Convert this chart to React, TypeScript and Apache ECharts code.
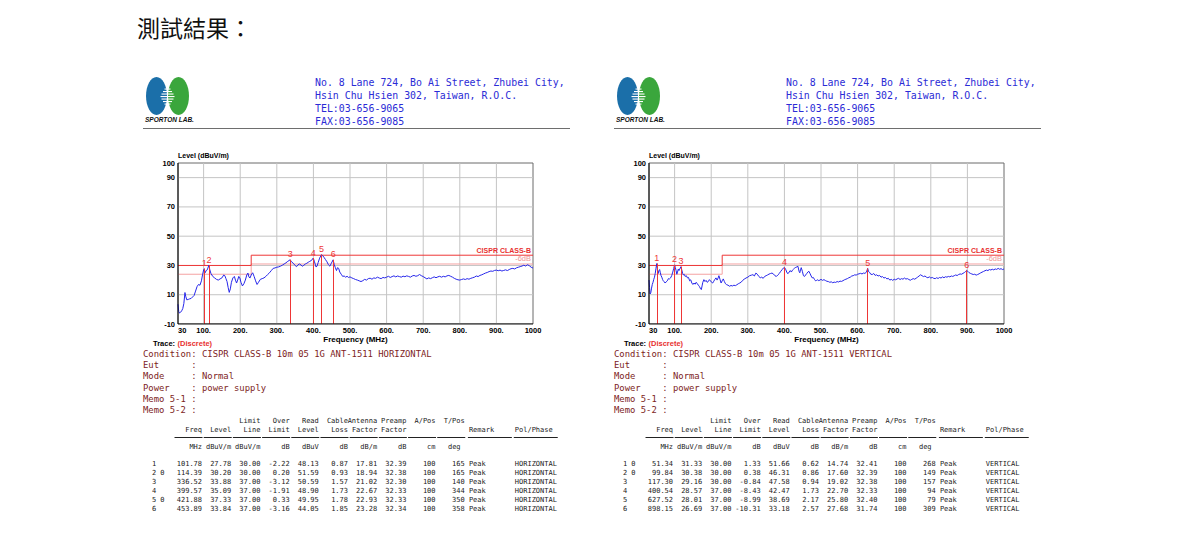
import React, { useEffect, useRef } from "react";
import * as echarts from "echarts";

const titleText = "測試結果：";
const addressLines = [
  "No. 8 Lane 724, Bo Ai Street, Zhubei City,",
  "Hsin Chu Hsien 302, Taiwan, R.O.C.",
  "TEL:03-656-9065",
  "FAX:03-656-9085",
];
const logoText = "SPORTON LAB.";
const conditionLabels = ["Condition", "Eut", "Mode", "Power", "Memo 5-1", "Memo 5-2"];
const horizConditionValues = ["CISPR CLASS-B 10m 05 1G ANT-1511 HORIZONTAL", "", "Normal", "power supply", "", ""];
const vertConditionValues = ["CISPR CLASS-B 10m 05 1G ANT-1511 VERTICAL", "", "Normal", "power supply", "", ""];

const xTicks = [30, 100, 200, 300, 400, 500, 600, 700, 800, 900, 1000];
const xGridValues = [100, 200, 300, 400, 500, 600, 700, 800, 900];
const yTicks = [-10, 10, 30, 50, 70, 90, 100];
const yGridValues = [10, 30, 50, 70, 90];
const xRange = [30, 1000];
const yRange = [-10, 100];

const limitClassB = [[30, 30], [230, 30], [230, 37], [1000, 37]];
const limitClassB6dB = [[30, 24], [230, 24], [230, 31], [1000, 31]];

const horizTrace = [
  [30, 3.5], [32, -1.5], [34, -2.5], [37, -2.0], [40, -1.0], [43, 0.5], [46, 4.0], [49, 11.5], [51, 9.0], [54, 6.5],
  [58, 6.8], [62, 7.2], [66, 7.5], [70, 8.5], [74, 9.5], [78, 12.5], [82, 15.5], [86, 17.0], [90, 16.5], [94, 19.5],
  [97, 23.5], [100, 27.0], [101.78, 27.78], [104, 25.0], [107, 26.5], [110, 27.0], [114.39, 30.2], [117, 27.0], [120, 24.5], [125, 22.5],
  [130, 21.5], [135, 20.5], [140, 20.0], [145, 20.8], [150, 21.5], [155, 23.5], [158, 23.0], [161, 21.0], [164, 19.0], [167, 15.0],
  [170, 11.6], [173, 14.0], [176, 18.5], [180, 21.5], [184, 22.5], [187, 20.0], [190, 18.0], [193, 20.0], [196, 22.5], [199, 21.5],
  [202, 18.5], [206, 16.0], [210, 17.5], [214, 20.0], [218, 23.5], [221, 24.8], [224, 22.0], [227, 21.5], [230, 23.5], [234, 25.0],
  [238, 22.5], [242, 19.5], [246, 17.0], [250, 18.5], [255, 20.5], [260, 21.0], [265, 21.5], [270, 22.5], [275, 23.8], [280, 25.0],
  [285, 26.5], [290, 28.0], [295, 28.3], [300, 28.8], [305, 29.0], [310, 29.5], [315, 30.2], [320, 31.0], [325, 31.8], [330, 32.8],
  [336.52, 33.88], [340, 32.5], [345, 31.5], [350, 30.0], [354, 29.2], [358, 30.5], [362, 31.0], [366, 30.3], [370, 29.5], [374, 30.2],
  [378, 31.0], [382, 31.5], [386, 32.2], [390, 32.8], [395, 33.5], [399.57, 35.09], [403, 32.5], [407, 29.0], [410, 29.5], [413, 32.0],
  [417, 35.0], [421.88, 37.33], [425, 36.8], [429, 35.5], [433, 34.0], [437, 32.5], [441, 30.5], [445, 29.5], [449, 31.5], [453.89, 33.84],
  [457, 30.5], [460, 28.5], [463, 26.5], [466, 28.5], [469, 28.0], [472, 25.5], [476, 24.0], [480, 22.5], [484, 22.8], [488, 22.0],
  [492, 22.6], [496, 21.8], [500, 22.2], [505, 21.5], [510, 21.0], [515, 20.4], [520, 20.0], [525, 19.5], [530, 19.0], [535, 19.6],
  [540, 20.5], [545, 20.0], [550, 21.0], [555, 21.3], [560, 20.6], [565, 21.5], [570, 21.2], [575, 22.0], [580, 21.4], [585, 21.0],
  [590, 21.8], [595, 21.5], [600, 22.0], [605, 22.6], [610, 21.8], [615, 22.4], [620, 22.9], [625, 22.2], [630, 22.8], [635, 22.4],
  [640, 22.0], [645, 22.7], [650, 22.3], [655, 22.9], [660, 22.5], [665, 22.0], [670, 22.8], [675, 23.2], [680, 22.6], [685, 23.0],
  [690, 23.8], [695, 23.0], [700, 22.4], [705, 21.6], [710, 20.8], [715, 21.5], [720, 21.0], [725, 21.6], [730, 22.2], [735, 21.6],
  [740, 22.2], [745, 22.6], [750, 22.0], [755, 22.6], [760, 22.2], [765, 22.9], [770, 23.2], [775, 22.6], [780, 22.0], [785, 21.2],
  [790, 20.6], [795, 20.2], [800, 20.0], [805, 20.4], [810, 20.8], [815, 20.4], [820, 21.0], [825, 20.6], [830, 21.2], [835, 21.6],
  [840, 22.0], [845, 22.8], [850, 22.4], [855, 23.2], [860, 23.6], [865, 24.2], [870, 24.8], [875, 25.2], [880, 25.8], [885, 26.2],
  [890, 26.0], [895, 26.6], [900, 26.8], [905, 26.4], [910, 26.8], [915, 26.2], [920, 26.6], [925, 27.0], [930, 26.5], [935, 27.2],
  [940, 27.8], [945, 28.0], [950, 27.6], [955, 28.4], [960, 28.8], [965, 29.2], [970, 29.6], [975, 30.2], [980, 29.6], [985, 30.5],
  [990, 29.8], [995, 28.8], [1000, 28.2],
];

const vertTrace = [
  [30, 20.0], [31.5, 15.0], [33, 10.5], [35, 11.5], [37, 14.5], [39, 17.0], [41, 18.5], [43, 20.5], [45, 22.0], [47, 24.5],
  [49, 28.0], [51.34, 31.33], [53, 27.0], [55, 24.5], [57, 26.5], [59, 27.2], [61, 25.0], [63, 23.0], [65, 22.0], [67, 20.5],
  [69, 19.5], [71, 19.0], [74, 18.0], [77, 18.8], [80, 19.5], [83, 21.0], [86, 20.8], [89, 21.5], [92, 23.0], [95, 25.5],
  [97.5, 28.0], [99.84, 30.38], [102, 28.5], [104, 26.5], [106, 24.0], [108, 25.5], [110, 27.5], [112, 26.5], [114, 27.5], [117.3, 29.16],
  [119.5, 27.0], [122, 24.5], [124, 23.5], [126, 24.0], [129, 22.5], [132, 23.0], [135, 21.5], [138, 21.8], [141, 19.5], [144, 20.2],
  [147, 18.0], [150, 17.0], [153, 18.0], [156, 17.2], [159, 18.5], [162, 17.5], [165, 16.5], [168, 15.5], [171, 14.0], [173, 13.5],
  [175, 16.0], [177, 18.5], [180, 20.3], [183, 19.0], [186, 19.8], [189, 18.5], [192, 19.0], [195, 20.3], [198, 19.5], [201, 18.5],
  [204, 18.0], [207, 19.2], [210, 20.5], [213, 21.5], [216, 20.0], [219, 21.5], [221, 23.0], [224, 20.5], [227, 18.0], [230, 19.5],
  [233, 20.8], [236, 19.0], [239, 17.5], [242, 16.9], [246, 16.5], [250, 15.8], [254, 16.3], [258, 16.0], [262, 16.5], [266, 16.2],
  [270, 16.8], [274, 17.5], [278, 18.0], [282, 18.6], [286, 19.8], [290, 20.6], [295, 21.4], [300, 22.0], [305, 23.0], [310, 23.4],
  [314, 23.7], [318, 22.8], [322, 24.8], [326, 24.0], [330, 22.5], [334, 21.6], [338, 22.0], [342, 21.2], [346, 22.5], [350, 23.0],
  [354, 23.5], [358, 24.1], [362, 24.5], [366, 24.8], [370, 24.2], [374, 23.0], [378, 22.5], [382, 23.5], [386, 24.5], [390, 26.0],
  [393.6, 27.1], [397, 28.2], [400.54, 28.57], [404, 27.0], [407, 25.0], [410, 24.4], [413, 25.5], [416, 26.5], [419, 25.5], [422, 26.8],
  [425, 27.5], [428, 28.2], [431, 28.7], [434, 29.0], [437, 29.4], [440, 26.0], [442, 25.0], [444, 27.0], [446, 28.5], [449, 26.0],
  [452, 23.0], [455, 22.5], [458, 23.5], [461, 24.5], [464, 25.5], [467, 26.0], [470, 24.5], [473, 22.8], [476, 21.5], [479, 21.8],
  [482, 20.5], [485, 19.5], [488, 19.8], [491, 20.2], [494, 19.6], [497, 20.0], [500, 20.5], [504, 19.8], [508, 20.3], [512, 19.7],
  [516, 19.2], [520, 19.0], [524, 18.5], [528, 18.8], [532, 18.2], [536, 18.6], [540, 18.4], [544, 19.0], [548, 18.7], [552, 19.3],
  [556, 19.1], [560, 19.6], [564, 20.2], [568, 20.6], [572, 21.0], [576, 21.6], [580, 22.0], [584, 22.8], [588, 23.0], [592, 23.6],
  [596, 23.4], [600, 24.0], [604, 24.3], [608, 24.6], [612, 24.2], [616, 24.8], [620, 24.6], [624, 25.4], [627.52, 28.01], [630, 25.8],
  [633, 25.2], [636, 24.0], [640, 23.8], [644, 24.5], [648, 23.2], [652, 23.6], [656, 22.8], [660, 23.2], [664, 22.0], [668, 22.4],
  [672, 21.4], [676, 21.8], [680, 20.8], [684, 21.2], [688, 20.0], [692, 20.5], [696, 19.8], [700, 20.6], [704, 20.2], [708, 20.8],
  [712, 21.2], [716, 20.4], [720, 21.0], [724, 20.6], [728, 21.4], [732, 20.7], [736, 21.0], [740, 20.4], [744, 19.9], [748, 20.5],
  [752, 21.0], [756, 20.6], [760, 21.3], [764, 22.0], [768, 22.8], [772, 23.6], [776, 23.0], [780, 22.4], [784, 22.8], [788, 22.0],
  [792, 21.6], [796, 22.2], [800, 21.4], [804, 21.8], [808, 21.2], [812, 21.0], [816, 21.6], [820, 21.1], [824, 21.8], [828, 21.4],
  [832, 22.2], [836, 21.6], [840, 22.3], [844, 22.0], [848, 22.5], [852, 22.2], [856, 22.8], [860, 22.5], [864, 23.0], [868, 23.5],
  [872, 23.1], [876, 23.8], [880, 24.2], [884, 24.0], [888, 24.6], [892, 25.2], [895, 25.8], [898.15, 26.69], [901, 26.0], [904, 25.2],
  [908, 24.6], [912, 24.2], [916, 23.8], [920, 24.0], [924, 23.4], [928, 23.8], [932, 24.3], [936, 24.9], [940, 25.4], [944, 25.9],
  [948, 26.4], [952, 26.8], [956, 26.5], [960, 27.2], [964, 26.9], [968, 27.4], [972, 27.0], [976, 27.6], [980, 27.3], [984, 28.0],
  [988, 27.4], [992, 27.8], [996, 27.2], [1000, 27.6],
];

const tableHeaderTop = ["", "", "Limit", "Over", "Read", "Cable", "Antenna", "Preamp", "A/Pos", "T/Pos"];
const tableHeaderMid = ["Freq", "Level", "Line", "Limit", "Level", "Loss", "Factor", "Factor", "", ""];
const tableUnits = ["MHz", "dBuV/m", "dBuV/m", "dB", "dBuV", "dB", "dB/m", "dB", "cm", "deg"];
const tableTextHeaders = ["Remark", "Pol/Phase"];

const horizFlags = ["", "0", "", "", "0", ""];
const horizFreq = [101.78, 114.39, 336.52, 399.57, 421.88, 453.89];
const horizLevel = [27.78, 30.2, 33.88, 35.09, 37.33, 33.84];
const horizLimitLine = [30, 30, 37, 37, 37, 37];
const horizOverLimit = [-2.22, 0.2, -3.12, -1.91, 0.33, -3.16];
const horizReadLevel = [48.13, 51.59, 50.59, 48.9, 49.95, 44.05];
const horizCableLoss = [0.87, 0.93, 1.57, 1.73, 1.78, 1.85];
const horizAntFactor = [17.81, 18.94, 21.02, 22.67, 22.93, 23.28];
const horizPreamp = [32.39, 32.38, 32.3, 32.33, 32.33, 32.34];
const horizAPos = [100, 100, 100, 100, 100, 100];
const horizTPos = [165, 165, 140, 344, 350, 358];
const horizRemark = ["Peak", "Peak", "Peak", "Peak", "Peak", "Peak"];
const horizPol = ["HORIZONTAL", "HORIZONTAL", "HORIZONTAL", "HORIZONTAL", "HORIZONTAL", "HORIZONTAL"];

const vertFlags = ["0", "0", "", "", "", ""];
const vertFreq = [51.34, 99.84, 117.3, 400.54, 627.52, 898.15];
const vertLevel = [31.33, 30.38, 29.16, 28.57, 28.01, 26.69];
const vertLimitLine = [30, 30, 30, 37, 37, 37];
const vertOverLimit = [1.33, 0.38, -0.84, -8.43, -8.99, -10.31];
const vertReadLevel = [51.66, 46.31, 47.58, 42.47, 38.69, 33.18];
const vertCableLoss = [0.62, 0.86, 0.94, 1.73, 2.17, 2.57];
const vertAntFactor = [14.74, 17.6, 19.02, 22.7, 25.8, 27.68];
const vertPreamp = [32.41, 32.39, 32.38, 32.33, 32.4, 31.74];
const vertAPos = [100, 100, 100, 100, 100, 100];
const vertTPos = [268, 149, 157, 94, 79, 309];
const vertRemark = ["Peak", "Peak", "Peak", "Peak", "Peak", "Peak"];
const vertPol = ["VERTICAL", "VERTICAL", "VERTICAL", "VERTICAL", "VERTICAL", "VERTICAL"];

const SANS = "Liberation Sans";
const MONO = "DejaVu Sans Mono";
const RED = "#ee3636";
const PINK = "#f4a2a2";
const TRACE = "#2626ea";
const GRIDLINE = "#c4c4c4";

const panels = [
  {
    dx: 0,
    trace: horizTrace, cond: horizConditionValues, flags: horizFlags, freq: horizFreq, level: horizLevel,
    cols: [horizFreq, horizLevel, horizLimitLine, horizOverLimit, horizReadLevel, horizCableLoss, horizAntFactor, horizPreamp],
    apos: horizAPos, tpos: horizTPos, remark: horizRemark, pol: horizPol,
  },
  {
    dx: 471,
    trace: vertTrace, cond: vertConditionValues, flags: vertFlags, freq: vertFreq, level: vertLevel,
    cols: [vertFreq, vertLevel, vertLimitLine, vertOverLimit, vertReadLevel, vertCableLoss, vertAntFactor, vertPreamp],
    apos: vertAPos, tpos: vertTPos, remark: vertRemark, pol: vertPol,
  },
];

function txt(text: string, x: number, y: number, o: any = {}) {
  return {
    type: "text",
    silent: true,
    style: {
      text, x, y,
      fill: o.fill || "#000",
      fontSize: o.fontSize || 8,
      fontFamily: o.fontFamily || SANS,
      fontWeight: o.fontWeight || "normal",
      fontStyle: o.fontStyle || "normal",
      textAlign: o.align || "left",
      textVerticalAlign: "middle",
    },
  };
}

function buildGraphics() {
  const els: any[] = [];
  els.push(txt(titleText, 137, 27, { fontSize: 23, fontFamily: "Noto Sans CJK TC", fill: "#111" }));
  const cw = 4.17;
  const colEnds = [12, 19, 26, 33, 40, 47, 54, 61, 68, 75];
  panels.forEach((p) => {
    const dx = p.dx;
    els.push({ type: "ellipse", silent: true, shape: { cx: 156.5 + dx, cy: 96, rx: 10.5, ry: 19 }, style: { fill: "#1b6fa9" } });
    els.push({ type: "ellipse", silent: true, shape: { cx: 178.5 + dx, cy: 96, rx: 10.5, ry: 19 }, style: { fill: "#3aa63c" } });
    const stripes = [[88.5, 6], [91, 9], [93.5, 12], [96, 14], [98.5, 12], [101, 9], [103.5, 6]];
    stripes.forEach(([y, w]) => {
      els.push({ type: "rect", silent: true, shape: { x: 167.5 - w / 2 + dx, y, width: w, height: 1.1 }, style: { fill: "#ffffff" } });
    });
    els.push(txt(logoText, 145 + dx, 119.5, { fontSize: 6.5, fontWeight: "bold", fontStyle: "italic", fill: "#111" }));
    addressLines.forEach((l, i) => {
      els.push(txt(l, 315 + dx, 82 + 13 * i, { fontSize: 9.9, fontFamily: MONO, fill: "#2b2bd6" }));
    });
    els.push({ type: "line", silent: true, shape: { x1: 143 + dx, y1: 128.5, x2: 570 + dx, y2: 128.5 }, style: { stroke: "#6e6e6e", lineWidth: 1 } });
    els.push(txt("Trace:", 153 + dx, 343.5, { fontSize: 7.5, fontWeight: "bold" }));
    els.push(txt("(Discrete)", 177.5 + dx, 343.5, { fontSize: 7.5, fontWeight: "bold", fill: "#e83030" }));
    const ccw = 5.36;
    conditionLabels.forEach((lab, i) => {
      const y = 354 + 11.2 * i;
      const o = { fontSize: 8.9, fontFamily: MONO, fill: "#7d1d1d" };
      els.push(txt(lab, 143 + dx, y, o));
      els.push(txt(":", 143 + 9 * ccw + dx, y, o));
      if (p.cond[i]) els.push(txt(p.cond[i], 143 + 11 * ccw + dx, y, o));
    });
    const bx = 152 + dx;
    const to = { fontSize: 7, fontFamily: MONO, fill: "#1a1a1a" };
    const tr = { ...to, align: "right" };
    colEnds.forEach((ce, i) => {
      const x = bx + ce * cw;
      if (tableHeaderTop[i]) els.push(txt(tableHeaderTop[i], x, 421, tr));
      if (tableHeaderMid[i]) els.push(txt(tableHeaderMid[i], x, 430, tr));
      const ux = i === 9 ? x - cw : x;
      els.push(txt(tableUnits[i], ux, 447, tr));
      els.push({ type: "line", silent: true, shape: { x1: bx + (ce - 6.6) * cw, y1: 437.5, x2: x + 0.5, y2: 437.5 }, style: { stroke: "#222", lineWidth: 1 } });
    });
    const remX = bx + 76 * cw;
    const polX = bx + 87 * cw;
    els.push(txt(tableTextHeaders[0], remX, 430, to));
    els.push(txt(tableTextHeaders[1], polX, 430, to));
    els.push({ type: "line", silent: true, shape: { x1: remX - 1, y1: 437.5, x2: bx + 86.3 * cw, y2: 437.5 }, style: { stroke: "#222", lineWidth: 1 } });
    els.push({ type: "line", silent: true, shape: { x1: polX - 1, y1: 437.5, x2: bx + 97.3 * cw, y2: 437.5 }, style: { stroke: "#222", lineWidth: 1 } });
    p.freq.forEach((_, r) => {
      const y = 464 + 9 * r;
      els.push(txt(String(r + 1), bx, y, to));
      if (p.flags[r]) els.push(txt(p.flags[r], bx + 2 * cw, y, to));
      p.cols.forEach((col, c) => {
        els.push(txt((col[r] as number).toFixed(2), bx + colEnds[c] * cw, y, tr));
      });
      els.push(txt(String(p.apos[r]), bx + colEnds[8] * cw, y, tr));
      els.push(txt(String(p.tpos[r]), bx + colEnds[9] * cw, y, tr));
      els.push(txt(p.remark[r], remX, y, to));
      els.push(txt(p.pol[r], polX, y, to));
    });
  });
  return els;
}

function buildOption() {
  const grids: any[] = [];
  const xAxes: any[] = [];
  const yAxes: any[] = [];
  const series: any[] = [];
  const axisFont = { fontSize: 7.5, fontWeight: "bold", color: "#000", fontFamily: SANS };
  panels.forEach((p, i) => {
    grids.push({
      left: 178 + p.dx, top: 163, width: 355, height: 161,
      show: true, backgroundColor: "#fff", borderColor: "#6a6a6a", borderWidth: 1, containLabel: false,
    });
    xAxes.push({
      type: "value", gridIndex: i, min: xRange[0], max: xRange[1],
      axisLine: { show: false, onZero: false },
      axisTick: { show: false },
      splitLine: { show: false },
      axisLabel: {
        ...axisFont, customValues: xTicks, margin: 2, alignMinLabel: "left",
        formatter: (v: number) => (v === 30 || v === 1000 ? String(v) : v + "."),
      },
      name: "Frequency (MHz)", nameLocation: "middle", nameGap: 11,
      nameTextStyle: { fontSize: 8, fontWeight: "bold", color: "#000", fontFamily: SANS },
    });
    yAxes.push({
      type: "value", gridIndex: i, min: yRange[0], max: yRange[1],
      axisLine: { show: false, onZero: false },
      axisTick: { show: false },
      splitLine: { show: false },
      axisLabel: { ...axisFont, customValues: yTicks, margin: 3 },
      name: "Level (dBuV/m)", nameLocation: "end", nameGap: 1.5,
      nameTextStyle: { ...axisFont, fontSize: 7, align: "left", verticalAlign: "bottom" },
    });
    xGridValues.forEach((v) => {
      series.push({
        type: "line", xAxisIndex: i, yAxisIndex: i, silent: true, symbol: "none", z: 1,
        data: [[v, yRange[0]], [v, yRange[1]]], lineStyle: { color: GRIDLINE, width: 1 },
      });
    });
    yGridValues.forEach((v) => {
      series.push({
        type: "line", xAxisIndex: i, yAxisIndex: i, silent: true, symbol: "none", z: 1,
        data: [[xRange[0], v], [xRange[1], v]], lineStyle: { color: GRIDLINE, width: 1 },
      });
    });
    // left and bottom frame edges
    series.push({
      type: "line", xAxisIndex: i, yAxisIndex: i, silent: true, symbol: "none", z: 6,
      data: [[xRange[0], yRange[1]], [xRange[0], yRange[0]], [xRange[1], yRange[0]]],
      lineStyle: { color: "#000", width: 1 },
    });
    const l6 = limitClassB6dB[limitClassB6dB.length - 1];
    series.push({
      type: "line", xAxisIndex: i, yAxisIndex: i, data: limitClassB6dB, symbol: "none", silent: true, z: 3,
      lineStyle: { color: PINK, width: 1 },
      markPoint: {
        symbol: "circle", symbolSize: 0, silent: true, itemStyle: { color: "transparent" },
        label: { show: true, position: "left", distance: 2, offset: [0, -5], formatter: "{b}", color: "#f09696", fontSize: 7.5, fontFamily: SANS },
        data: [{ name: "-6dB", coord: [l6[0], l6[1]] }],
      },
    });
    const lb = limitClassB[limitClassB.length - 1];
    series.push({
      type: "line", xAxisIndex: i, yAxisIndex: i, data: limitClassB, symbol: "none", silent: true, z: 3,
      lineStyle: { color: RED, width: 1 },
      markPoint: {
        symbol: "circle", symbolSize: 0, silent: true, itemStyle: { color: "transparent" },
        label: { show: true, position: "left", distance: 2, offset: [0, -5], formatter: "{b}", color: "#e83030", fontSize: 7, fontWeight: "bold", fontFamily: SANS },
        data: [{ name: "CISPR CLASS-B", coord: [lb[0], lb[1]] }],
      },
    });
    series.push({
      type: "line", xAxisIndex: i, yAxisIndex: i, data: p.trace, symbol: "none", silent: true, z: 4,
      lineStyle: { color: TRACE, width: 1 },
      markLine: {
        silent: true, z: 5, symbol: ["none", "none"],
        lineStyle: { color: RED, width: 1, type: "solid" },
        label: { show: true, position: "end", distance: 1, formatter: "{b}", color: RED, fontSize: 9, fontFamily: SANS },
        emphasis: { disabled: true },
        data: p.freq.map((f, k) => [
          { name: String(k + 1), coord: [f, yRange[0]] },
          { coord: [f, p.level[k]] },
        ]),
      },
    });
  });
  return {
    animation: false, backgroundColor: "#fff",
    grid: grids, xAxis: xAxes, yAxis: yAxes, series,
    graphic: { elements: buildGraphics() },
  };
}

export default function App() {
  const ref = useRef<HTMLDivElement>(null);
  useEffect(() => {
    if (!ref.current) return;
    const chart = echarts.init(ref.current, undefined, { renderer: "svg" });
    chart.setOption(buildOption() as any);
    return () => chart.dispose();
  }, []);
  return <div ref={ref} style={{ position: "absolute", left: 0, top: 0, width: 1182, height: 544, background: "#fff" }} />;
}
